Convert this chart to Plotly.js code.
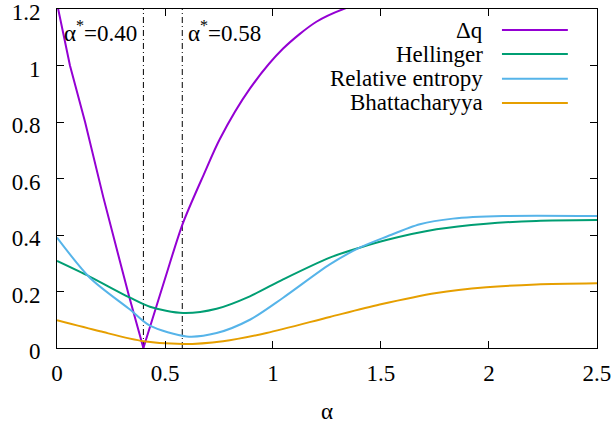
<!DOCTYPE html>
<html>
<head>
<meta charset="utf-8">
<script src="https://cdn.plot.ly/plotly-3.0.1.min.js"></script>
<style>
html,body{margin:0;padding:0;background:#fff;}
#chart{width:615px;height:425px;}
</style>
</head>
<body>
<div id="chart"></div>
<script>
// ---- data ----
const seriesNames = ["Δq", "Hellinger", "Relative entropy", "Bhattacharyya"];

const dqX = [0, 0.06, 0.13, 0.214, 0.291, 0.333, 0.40, 0.50, 0.581, 0.68, 0.754, 0.893, 1.047, 1.201, 1.34, 1.5];
const dqY = [1.22, 1.00, 0.80, 0.535, 0.308, 0.185, 0.0, 0.245, 0.438, 0.615, 0.74, 0.918, 1.06, 1.155, 1.204, 1.24];

const helX = [0, 0.153, 0.338, 0.43, 0.584, 0.739, 0.893, 1.047, 1.263, 1.401, 1.525, 1.757, 1.988, 2.219, 2.5];
const helY = [0.308, 0.252, 0.178, 0.146, 0.124, 0.139, 0.183, 0.243, 0.320, 0.355, 0.382, 0.420, 0.440, 0.450, 0.453];

const relX = [0, 0.153, 0.338, 0.43, 0.6, 0.739, 0.893, 1.047, 1.263, 1.401, 1.525, 1.68, 1.833, 2.065, 2.5];
const relY = [0.391, 0.248, 0.136, 0.079, 0.041, 0.053, 0.10, 0.178, 0.296, 0.355, 0.394, 0.438, 0.458, 0.467, 0.467];

const bhaX = [0, 0.199, 0.4, 0.584, 0.769, 0.97, 1.263, 1.494, 1.757, 1.988, 2.219, 2.5];
const bhaY = [0.098, 0.059, 0.024, 0.014, 0.024, 0.053, 0.110, 0.154, 0.195, 0.215, 0.225, 0.229];

const alphaStar = [0.40, 0.58];
const alphaLabels = ["α<sup>*</sup>=0.40", "α<sup>*</sup>=0.58"];

const xTicks = [0, 0.5, 1, 1.5, 2, 2.5];
const xTickText = ["0", "0.5", "1", "1.5", "2", "2.5"];
const yTicks = [0, 0.2, 0.4, 0.6, 0.8, 1, 1.2];
const yTickText = ["0", "0.2", "0.4", "0.6", "0.8", "1", "1.2"];

// ---- styling ----
const colors = ["#9400d3", "#009e73", "#56b4e9", "#e69f00"];
const FONT = "Liberation Serif, Times New Roman, serif";
const FS = 23;

const xs = [dqX, helX, relX, bhaX];
const ys = [dqY, helY, relY, bhaY];

const traces = [];
// vertical dash-dot lines
alphaStar.forEach(a => {
  traces.push({
    x: [a, a], y: [yTicks[0], yTicks[yTicks.length - 1]],
    mode: "lines", type: "scatter", showlegend: false, hoverinfo: "skip",
    line: {color: "#000", width: 1, dash: "6px,3px,1px,3px"}
  });
});
// Δq: V shape — straight left branch, smooth right branch, split at its minimum
const kMin = dqY.indexOf(Math.min(...dqY));
traces.push({
  x: dqX.slice(0, kMin + 1), y: dqY.slice(0, kMin + 1), name: seriesNames[0],
  type: "scatter", mode: "lines", showlegend: false,
  line: {color: colors[0], width: 2, shape: "linear"}
});
traces.push({
  x: dqX.slice(kMin), y: dqY.slice(kMin), name: seriesNames[0],
  type: "scatter", mode: "lines", showlegend: false,
  line: {color: colors[0], width: 2, shape: "spline", smoothing: 0.8}
});
for (let i = 1; i < seriesNames.length; i++) {
  traces.push({
    x: xs[i], y: ys[i], name: seriesNames[i], type: "scatter", mode: "lines", showlegend: false,
    line: {color: colors[i], width: 2, shape: "spline", smoothing: 0.8}
  });
}

// legend built as annotations + sample lines (text left, line right, gnuplot style)
const legY = [0.938, 0.867, 0.794, 0.723];
const annotations = [];
const shapes = [];
seriesNames.forEach((n, i) => {
  annotations.push({
    xref: "paper", yref: "paper", x: 0.793, y: legY[i], xanchor: "right", yanchor: "middle",
    text: n, showarrow: false, font: {family: FONT, size: FS, color: "#000"}
  });
  shapes.push({
    type: "line", xref: "paper", yref: "paper", x0: 0.824, x1: 0.946, y0: legY[i], y1: legY[i],
    line: {color: colors[i], width: 2}
  });
});
alphaStar.forEach((a, i) => {
  annotations.push({
    xref: "x", yref: "y", x: a, y: 1.12, xanchor: i === 0 ? "right" : "left", yanchor: "middle",
    xshift: i === 0 ? -4 : 4,
    text: alphaLabels[i], showarrow: false, font: {family: FONT, size: FS, color: "#000"}
  });
});

const axisCommon = {
  showgrid: false, zeroline: false, showline: true, linecolor: "#000", linewidth: 1,
  mirror: "ticks", ticks: "inside", ticklen: 7, tickwidth: 1, tickcolor: "#000",
  ticklabeloverflow: "allow",
  tickfont: {family: FONT, size: FS, color: "#000"}
};

const layout = {
  width: 615, height: 425,
  margin: {l: 57, r: 18, t: 9, b: 77},
  paper_bgcolor: "#fff", plot_bgcolor: "#fff",
  showlegend: false,
  font: {family: FONT, size: FS, color: "#000"},
  xaxis: Object.assign({}, axisCommon, {
    range: [0, 2.5001], tickvals: xTicks, ticktext: xTickText, ticklabelstandoff: 4,
    title: {text: "α", font: {family: FONT, size: FS, color: "#000"}, standoff: 18}
  }),
  yaxis: Object.assign({}, axisCommon, {
    range: [0, 1.2001], tickvals: yTicks, ticktext: yTickText, ticklabelstandoff: 11,
    ticklabelshift: 3
  }),
  annotations: annotations,
  shapes: shapes
};

Plotly.newPlot("chart", traces, layout, {displayModeBar: false, staticPlot: true});
</script>
</body>
</html>
